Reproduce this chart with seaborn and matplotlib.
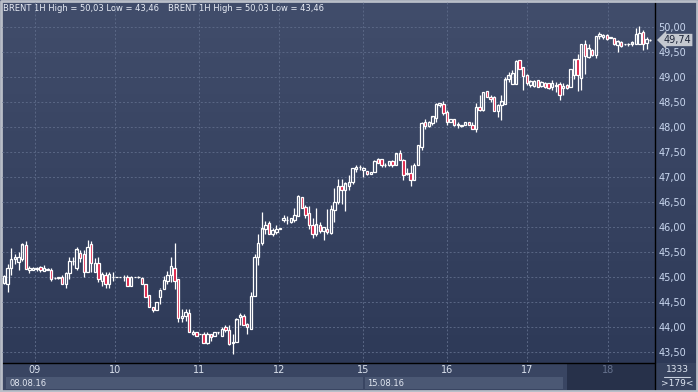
import numpy as np
import pandas as pd
import seaborn as sns
import matplotlib.pyplot as plt
from matplotlib.patches import Rectangle
from matplotlib.colors import LinearSegmentedColormap

# BRENT 1H candles, 08.08.16 - 18.08.16 (179 bars)
opens = [44.88, 44.86, 45.18, 45.36, 45.30, 45.35, 45.63, 45.13, 45.15, 45.17,
         45.19, 45.12, 45.16, 45.13, 44.98, 44.98, 44.99, 44.85, 45.08, 45.31,
         45.17, 45.48, 45.45, 45.11, 45.65, 45.11, 45.29, 44.93, 45.04, 44.85,
         45.00, 45.00, 45.00, 44.99, 45.01, 44.83, 45.00, 45.00, 44.98, 44.85,
         44.63, 44.39, 44.34, 44.61, 44.75, 44.93, 45.03, 45.19, 44.95, 44.19,
         44.21, 44.29, 43.87, 43.89, 43.86, 43.85, 43.68, 43.85, 43.83, 43.89,
         43.83, 43.99, 43.93, 43.67, 43.70, 44.20, 44.22, 44.05, 43.97, 44.62,
         45.39, 45.67, 45.97, 46.07, 45.87, 45.90, 45.97, 46.14, 46.14, 46.10,
         46.14, 46.23, 46.59, 46.41, 46.27, 46.03, 45.85, 46.03, 45.92, 45.97,
         45.89, 46.34, 46.50, 46.81, 46.74, 46.82, 46.91, 47.16, 47.20, 47.15,
         47.11, 47.07, 47.11, 47.37, 47.35, 47.24, 47.24, 47.31, 47.24, 47.47,
         47.34, 47.07, 47.07, 46.94, 47.25, 47.61, 48.10, 48.03, 48.08, 48.18,
         48.44, 48.47, 48.30, 48.11, 48.15, 48.05, 48.03, 48.05, 48.09, 48.05,
         47.96, 48.41, 48.35, 48.71, 48.61, 48.59, 48.33, 48.44, 48.47, 48.96,
         48.87, 48.87, 49.34, 49.21, 49.04, 48.84, 48.82, 48.94, 48.82, 48.89,
         48.87, 48.81, 48.84, 48.85, 48.79, 48.84, 48.81, 49.04, 49.35, 48.99,
         49.67, 49.41, 49.54, 49.44, 49.82, 49.81, 49.84, 49.79, 49.77, 49.64,
         49.71, 49.66, 49.66, 49.66, 49.67, 49.67, 49.89, 49.69, 49.74]
highs = [45.05, 45.26, 45.58, 45.46, 45.51, 45.68, 45.71, 45.21, 45.20, 45.20,
         45.22, 45.25, 45.18, 45.18, 44.99, 45.00, 45.05, 45.11, 45.41, 45.41,
         45.61, 45.55, 45.55, 45.75, 45.71, 45.38, 45.39, 45.11, 45.11, 45.11,
         45.11, 45.01, 45.01, 45.05, 45.03, 45.02, 45.01, 45.02, 45.00, 44.86,
         44.63, 44.41, 44.50, 44.78, 45.02, 45.12, 45.39, 45.67, 44.95, 44.35,
         44.37, 44.35, 43.94, 43.90, 43.87, 43.89, 43.89, 43.87, 43.90, 43.91,
         43.99, 44.05, 44.05, 43.85, 44.17, 44.28, 44.25, 44.07, 44.70, 45.45,
         45.85, 46.30, 46.12, 46.12, 45.98, 46.05, 45.98, 46.24, 46.22, 46.19,
         46.39, 46.65, 46.60, 46.44, 46.42, 46.19, 46.39, 46.10, 46.00, 46.37,
         46.44, 46.79, 46.97, 46.97, 46.90, 47.04, 47.19, 47.24, 47.24, 47.21,
         47.12, 47.11, 47.34, 47.38, 47.36, 47.27, 47.32, 47.34, 47.48, 47.54,
         47.37, 47.17, 47.24, 47.27, 47.63, 48.11, 48.16, 48.12, 48.23, 48.48,
         48.49, 48.52, 48.35, 48.17, 48.16, 48.10, 48.05, 48.10, 48.10, 48.11,
         48.48, 48.65, 48.71, 48.72, 48.64, 48.62, 48.46, 48.64, 49.01, 49.09,
         49.14, 49.34, 49.34, 49.21, 49.07, 48.94, 48.94, 48.95, 48.92, 48.91,
         48.88, 48.95, 48.91, 48.91, 48.89, 48.86, 49.17, 49.37, 49.47, 49.67,
         49.74, 49.67, 49.56, 49.82, 49.91, 49.87, 49.86, 49.80, 49.77, 49.75,
         49.73, 49.67, 49.69, 49.73, 49.99, 50.03, 49.94, 49.81, 49.76]
lows = [44.85, 44.70, 45.05, 45.26, 45.15, 45.31, 45.16, 45.08, 45.13, 45.12,
        45.10, 45.12, 45.13, 44.93, 44.97, 44.97, 44.85, 44.79, 44.95, 45.25,
        45.14, 45.30, 44.99, 45.11, 45.11, 45.11, 44.91, 44.81, 44.79, 44.78,
        44.93, 44.99, 44.99, 44.92, 44.83, 44.83, 44.99, 44.98, 44.86, 44.61,
        44.41, 44.30, 44.34, 44.45, 44.75, 44.85, 44.89, 44.75, 44.09, 44.10,
        44.12, 43.89, 43.84, 43.83, 43.85, 43.67, 43.66, 43.73, 43.82, 43.87,
        43.82, 43.90, 43.65, 43.46, 43.70, 44.05, 44.05, 43.85, 43.97, 44.62,
        45.25, 45.63, 45.85, 45.85, 45.81, 45.85, 45.96, 46.10, 46.07, 46.08,
        46.10, 46.23, 46.39, 46.18, 45.95, 45.77, 45.82, 45.88, 45.75, 45.87,
        45.87, 46.10, 46.47, 46.47, 46.31, 46.74, 46.87, 47.11, 47.14, 47.01,
        47.05, 47.06, 47.11, 47.27, 47.20, 47.20, 47.22, 47.21, 47.24, 47.34,
        46.94, 47.04, 46.82, 46.94, 47.25, 47.55, 47.95, 48.00, 48.05, 48.11,
        48.40, 48.25, 48.05, 48.10, 48.03, 47.98, 48.01, 48.04, 48.04, 47.95,
        47.91, 48.33, 48.33, 48.60, 48.50, 48.33, 48.21, 48.14, 48.47, 48.91,
        48.86, 48.87, 49.17, 48.75, 48.84, 48.81, 48.81, 48.80, 48.81, 48.77,
        48.76, 48.74, 48.71, 48.54, 48.64, 48.76, 48.81, 48.97, 48.73, 48.74,
        49.07, 49.39, 49.43, 49.39, 49.77, 49.77, 49.75, 49.78, 49.64, 49.51,
        49.61, 49.65, 49.63, 49.62, 49.66, 49.66, 49.54, 49.57, 49.73]
closes = [45.02, 45.19, 45.35, 45.39, 45.41, 45.65, 45.16, 45.18, 45.19, 45.16,
          45.14, 45.18, 45.15, 44.96, 44.98, 44.99, 44.85, 45.08, 45.31, 45.31,
          45.55, 45.38, 45.11, 45.61, 45.28, 45.29, 44.97, 45.06, 44.85, 45.06,
          45.00, 45.00, 45.00, 44.99, 44.83, 45.01, 45.00, 45.00, 44.86, 44.61,
          44.41, 44.34, 44.50, 44.75, 44.94, 45.03, 45.21, 44.93, 44.19, 44.23,
          44.30, 43.90, 43.91, 43.83, 43.86, 43.67, 43.85, 43.80, 43.89, 43.89,
          43.97, 43.93, 43.66, 43.70, 44.15, 44.24, 44.05, 43.99, 44.62, 45.39,
          45.67, 45.97, 46.05, 45.87, 45.94, 45.97, 45.97, 46.19, 46.14, 46.17,
          46.25, 46.62, 46.39, 46.25, 46.03, 45.87, 46.05, 45.92, 45.99, 45.90,
          46.35, 46.50, 46.81, 46.75, 46.87, 46.91, 47.17, 47.20, 47.20, 47.18,
          47.06, 47.10, 47.33, 47.28, 47.24, 47.24, 47.31, 47.24, 47.47, 47.34,
          47.04, 47.07, 46.94, 47.24, 47.63, 48.08, 48.03, 48.11, 48.21, 48.47,
          48.47, 48.28, 48.11, 48.16, 48.05, 48.05, 48.03, 48.09, 48.05, 47.96,
          48.41, 48.35, 48.71, 48.61, 48.56, 48.33, 48.44, 48.51, 48.95, 49.03,
          49.07, 49.32, 49.17, 49.03, 48.89, 48.91, 48.92, 48.81, 48.91, 48.81,
          48.77, 48.89, 48.82, 48.64, 48.83, 48.77, 49.17, 49.35, 49.04, 49.67,
          49.42, 49.57, 49.44, 49.82, 49.87, 49.85, 49.77, 49.79, 49.66, 49.71,
          49.63, 49.66, 49.66, 49.69, 49.87, 49.89, 49.66, 49.76, 49.74]

day_labels = ["09", "10", "11", "12", "15", "16", "17", "18"]
day_pos = [8.5, 30.6, 53.7, 75.8, 98.9, 122.0, 144.1, 166.4]
week_labels = ["08.08.16", "15.08.16"]
price_ticks = np.arange(43.5, 50.01, 0.5)
last_price = 49.74
title = "BRENT 1H High = 50,03 Low = 43,46"
bars_shown = 179
bars_total = 1333

df = pd.DataFrame({"open": opens, "high": highs, "low": lows, "close": closes})
df["bar"] = np.arange(len(df))
df["up"] = df["close"] >= df["open"]
df["body_lo"] = df[["open", "close"]].min(axis=1)
df["body_hi"] = df[["open", "close"]].max(axis=1)
df["body_h"] = (df["body_hi"] - df["body_lo"]).clip(lower=0.004)

sns.set_theme(style="dark")
plt.rcParams["font.family"] = ["DejaVu Sans"]

W, H = 698, 392
fig = plt.figure(figsize=(W / 100, H / 100), dpi=100)

# background layer in pixel coordinates
bg = fig.add_axes([0, 0, 1, 1])
bg.set_xlim(0, W)
bg.set_ylim(H, 0)
bg.axis("off")
grad = np.linspace(0, 1, 256).reshape(-1, 1)
cmap = LinearSegmentedColormap.from_list("bgc", ["#414d6b", "#2c3856"])
bg.imshow(grad, cmap=cmap, extent=[0, W, H, 0], aspect="auto", zorder=0)

# bottom strips
bg.add_patch(Rectangle((2, 363), 565, 27, fc="#394562", ec="none", zorder=1))
bg.add_patch(Rectangle((6, 377), 357, 12, fc="#4b5874", ec="none", zorder=2))
bg.add_patch(Rectangle((365, 377), 198, 12, fc="#4b5874", ec="none", zorder=2))
bg.add_patch(Rectangle((567, 363), 88, 27, fc="#27314a", ec="none", zorder=2))
bg.add_patch(Rectangle((655, 363), 41, 27, fc="#36425e", ec="none", zorder=1))
bg.plot([655, 655], [0, 390], color="black", lw=1.0, zorder=3)
bg.plot([2, 655], [363, 363], color="black", lw=1.0, zorder=3)
# outer frame
bg.plot([0.5, 0.5, 697, 697, 0.5], [391, 0.5, 0.5, 391, 391], color="#b9bec8", lw=2.0, zorder=4)

bg.text(10, 383.5, week_labels[0], color="#e3e8f2", fontsize=6, va="center", zorder=5)
bg.text(367, 383.5, week_labels[1], color="#e3e8f2", fontsize=6, va="center", zorder=5)
bg.text(677, 369.5, str(bars_total), color="#dfe6f2", fontsize=6.5, ha="center", va="center", zorder=5)
bg.plot([664, 690], [376.5, 376.5], color="#c7cfdd", lw=0.8, zorder=5)
bg.text(677, 384, ">" + str(bars_shown) + "<", color="#dfe6f2", fontsize=6.5, ha="center", va="center", zorder=5)

# main price axes
ax = fig.add_axes([2 / W, 30 / H, 653 / W, 361 / H])
ax.set_facecolor("none")
ax.set_xlim(-0.55, 179.3)
ax.set_ylim(43.30, 50.52)

ax.set_yticks(price_ticks)
ax.set_yticklabels([f"{v:.2f}".replace(".", ",") for v in price_ticks])
ax.yaxis.tick_right()
ax.set_xticks(day_pos)
ax.set_xticklabels(day_labels)
ax.tick_params(axis="y", length=0, pad=2.5, labelcolor="#c9d7ef", labelsize=7)
ax.tick_params(axis="x", length=0, pad=2, labelcolor="#d9e0ec", labelsize=7)
ax.get_xticklabels()[-1].set_color("#66728d")
ax.grid(True, color="#5a6785", linestyle=(0, (2, 2)), linewidth=0.7)
for s in ax.spines.values():
    s.set_visible(False)

# wicks
ax.vlines(df["bar"], df["body_hi"], df["high"], color="white", lw=0.9, zorder=3)
ax.vlines(df["bar"], df["low"], df["body_lo"], color="white", lw=0.9, zorder=3)
# bodies: hollow when up, crimson when down
faces = ["none" if u else "#dc143c" for u in df["up"]]
ax.bar(df["bar"], df["body_h"], bottom=df["body_lo"], width=0.66,
       color=faces, edgecolor="white", linewidth=0.9, zorder=4)

# header
for x0 in (3, 168):
    bg.text(x0, 8, title, color="#e8edf6", fontsize=6, va="center", zorder=6)

# last price tag
ax.text(1.013, last_price, f"{last_price:.2f}".replace(".", ","),
        transform=ax.get_yaxis_transform(), color="#1c2438", fontsize=7,
        va="center", ha="left", clip_on=False, zorder=6,
        bbox=dict(boxstyle="larrow,pad=0.12", fc="#c4c8d0", ec="none"))

fig.savefig("out.png", dpi=100)
